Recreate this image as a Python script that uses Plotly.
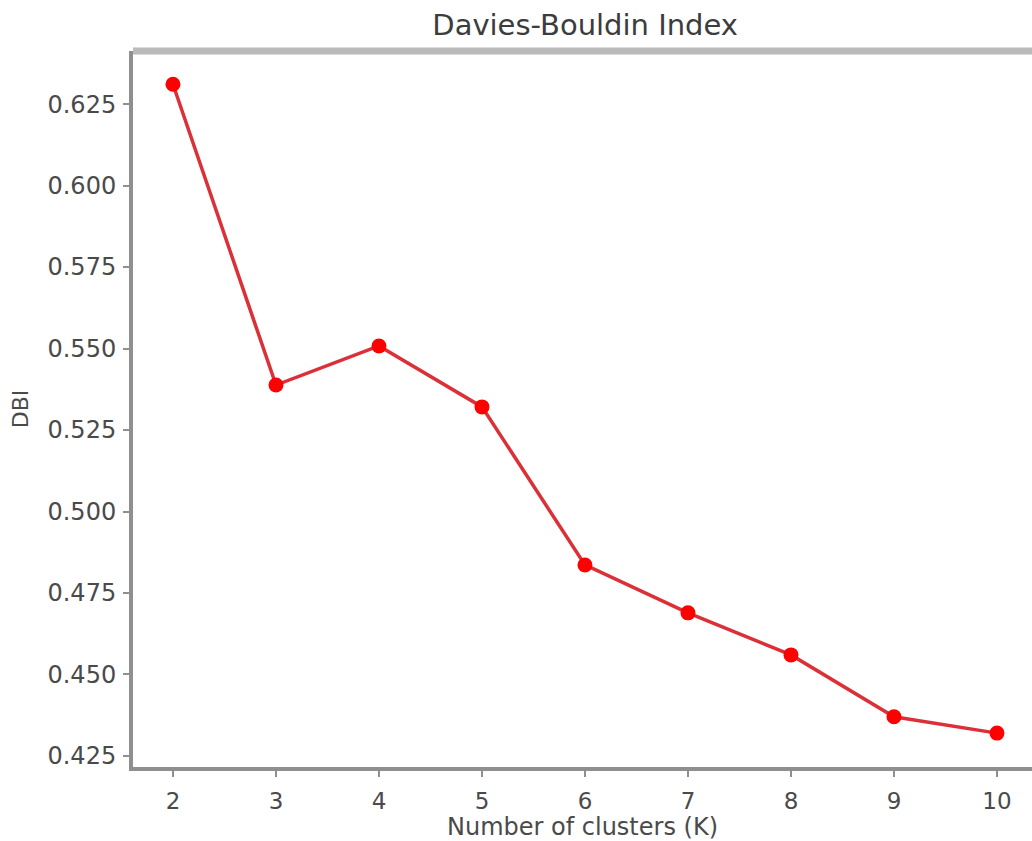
import plotly.graph_objects as go

k_values = [2, 3, 4, 5, 6, 7, 8, 9, 10]
dbi_values = [0.6311, 0.5388, 0.5508, 0.5321, 0.4836, 0.4689, 0.4560, 0.4370, 0.4320]
y_ticks = [0.425, 0.450, 0.475, 0.500, 0.525, 0.550, 0.575, 0.600, 0.625]
y_tick_labels = ["0.425", "0.450", "0.475", "0.500", "0.525", "0.550", "0.575", "0.600", "0.625"]

font_family = "DejaVu Sans"
text_color = "#4a4a4a"

fig = go.Figure()
fig.add_trace(go.Scatter(
    x=k_values, y=dbi_values, mode="lines+markers",
    line=dict(color="#dc3038", width=3.5),
    marker=dict(color="#ff0000", size=15),
    showlegend=False,
))

fig.update_layout(
    width=1032, height=841,
    paper_bgcolor="white", plot_bgcolor="white",
    margin=dict(l=133, r=0, t=51, b=74),
    font=dict(family=font_family, color=text_color, size=23),
    title=dict(text="Davies-Bouldin Index", x=0.567, xanchor="center",
               y=0.970, yanchor="middle", font=dict(size=29, color="#3c3c3c")),
    xaxis=dict(
        range=[1.612, 10.34], tickmode="array", tickvals=k_values,
        ticktext=[str(k) for k in k_values],
        showgrid=False, zeroline=False, automargin=False,
        showline=True, linecolor="#8f8f8f", linewidth=4,
        ticks="outside", ticklen=6, tickwidth=2, tickcolor="#8f8f8f",
        ticklabelstandoff=4,
        tickfont=dict(size=23, color=text_color),
        title=dict(text="Number of clusters (K)", font=dict(size=24, color=text_color), standoff=10),
    ),
    yaxis=dict(
        range=[0.4216, 0.6413], tickmode="array", tickvals=y_ticks, ticktext=y_tick_labels,
        showgrid=False, zeroline=False, automargin=False,
        showline=True, linecolor="#8f8f8f", linewidth=4,
        ticks="outside", ticklen=6, tickwidth=2, tickcolor="#8f8f8f",
        ticklabelstandoff=2,
        tickfont=dict(size=24, color=text_color),
        title=dict(text="DBI", font=dict(size=22, color=text_color), standoff=14),
    ),
    shapes=[dict(type="line", xref="paper", yref="paper", x0=0, x1=1, y0=1, y1=1,
                 line=dict(color="#bababa", width=7))],
)

fig.write_html("out.html", config={"displayModeBar": False},
               post_script="document.body.style.margin='0';document.body.style.overflow='hidden';")
